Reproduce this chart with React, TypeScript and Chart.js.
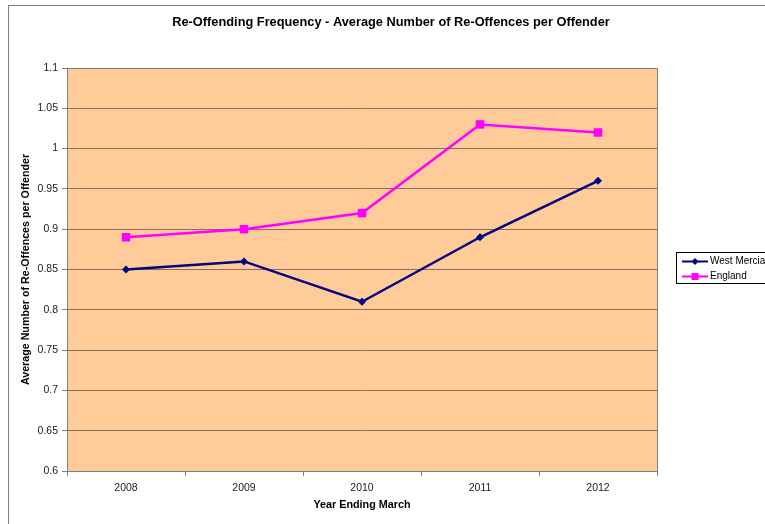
import React, { useEffect, useRef } from "react";
import { Chart, registerables } from "chart.js";

Chart.register(...registerables);

const categories = ["2008", "2009", "2010", "2011", "2012"];
const westMercia = [0.85, 0.86, 0.81, 0.89, 0.96];
const england = [0.89, 0.9, 0.92, 1.03, 1.02];
const seriesNames = ["West Mercia", "England"];
const chartTitle = "Re-Offending Frequency - Average Number of Re-Offences per Offender";
const xTitle = "Year Ending March";
const yTitle = "Average Number of Re-Offences per Offender";

const FONT = "'Liberation Sans', Arial, sans-serif";
const NAVY = "#000080";
const MAGENTA = "#FF00FF";

const W = 790;
const H = 530;

const decorPlugin = {
  id: "decor",
  beforeDraw(chart: any) {
    const { ctx, chartArea } = chart;
    const { left, top, right, bottom } = chartArea;
    ctx.save();
    ctx.fillStyle = "#FFCC99";
    ctx.fillRect(left, top, right - left, bottom - top);
    ctx.restore();
  },
  afterDatasetsDraw(chart: any) {
    const { ctx, chartArea } = chart;
    const { left, top, right, bottom } = chartArea;
    ctx.save();
    ctx.strokeStyle = "#808080";
    ctx.lineWidth = 1;
    ctx.strokeRect(Math.round(left) + 0.5, Math.round(top) + 0.5, Math.round(right - left), Math.round(bottom - top));
    ctx.restore();
  },
  afterDraw(chart: any) {
    const { ctx } = chart;
    ctx.save();
    // title
    ctx.fillStyle = "#000000";
    ctx.font = `bold 12.8px ${FONT}`;
    ctx.textAlign = "center";
    ctx.textBaseline = "middle";
    ctx.fillText(chartTitle, 382, 16);
    // legend
    const bx = 667.5, by = 246.5, bw = 140, bh = 31;
    ctx.fillStyle = "#ffffff";
    ctx.fillRect(bx, by, bw, bh);
    ctx.strokeStyle = "#000000";
    ctx.lineWidth = 1;
    ctx.strokeRect(bx, by, bw, bh);
    const rows = [
      { name: seriesNames[0], color: NAVY, y: 255.5, shape: "diamond" },
      { name: seriesNames[1], color: MAGENTA, y: 270.5, shape: "square" },
    ];
    ctx.font = `10px ${FONT}`;
    ctx.textAlign = "left";
    for (const r of rows) {
      ctx.strokeStyle = r.color;
      ctx.lineWidth = 2;
      ctx.beginPath();
      ctx.moveTo(673, r.y);
      ctx.lineTo(699, r.y);
      ctx.stroke();
      ctx.fillStyle = r.color;
      if (r.shape === "diamond") {
        ctx.beginPath();
        ctx.moveTo(686, r.y - 3.5);
        ctx.lineTo(689.5, r.y);
        ctx.lineTo(686, r.y + 3.5);
        ctx.lineTo(682.5, r.y);
        ctx.closePath();
        ctx.fill();
      } else {
        ctx.fillRect(682.5, r.y - 3.5, 7, 7);
      }
      ctx.fillStyle = "#000000";
      ctx.fillText(r.name, 701, r.y);
    }
    ctx.restore();
  },
};

export default function App() {
  const ref = useRef<HTMLCanvasElement | null>(null);
  useEffect(() => {
    if (!ref.current) return;
    const chart = new Chart(ref.current, {
      type: "line",
      data: {
        labels: categories,
        datasets: [
          {
            label: seriesNames[0],
            data: westMercia,
            borderColor: NAVY,
            backgroundColor: NAVY,
            borderWidth: 2.5,
            pointStyle: "rectRot",
            pointRadius: 4,
            pointBorderWidth: 0,
            tension: 0,
          },
          {
            label: seriesNames[1],
            data: england,
            borderColor: MAGENTA,
            backgroundColor: MAGENTA,
            borderWidth: 2.5,
            pointStyle: "rect",
            pointRadius: 6,
            pointBorderWidth: 0,
            tension: 0,
          },
        ],
      },
      options: {
        responsive: false,
        animation: false,
        layout: { padding: { top: 62, left: 0, right: 142, bottom: 5 } },
        plugins: {
          legend: { display: false },
          title: { display: false },
          tooltip: { enabled: false },
        },
        scales: {
          x: {
            offset: true,
            grid: {
              offset: true,
              drawOnChartArea: false,
              drawTicks: true,
              tickLength: 5,
              color: "#808080",
            },
            border: { display: true, color: "#808080" },
            ticks: {
              color: "#1a1a1a",
              font: { family: FONT, size: 10.5 },
              padding: 6,
            },
            title: {
              display: true,
              text: xTitle,
              color: "#000000",
              font: { family: FONT, size: 10.8, weight: "bold" },
              padding: 19,
            },
            afterFit: (s: any) => {
              s.height = 60;
            },
          },
          y: {
            min: 0.6,
            max: 1.1,
            grid: {
              color: "#86705a",
              tickColor: "#808080",
              tickLength: 5,
              drawTicks: true,
            },
            border: { display: true, color: "#808080" },
            ticks: {
              stepSize: 0.05,
              color: "#1a1a1a",
              font: { family: FONT, size: 10.5 },
              padding: 4,
              callback: (v: any) => String(parseFloat(Number(v).toFixed(2))),
            },
            title: {
              display: true,
              text: yTitle,
              color: "#000000",
              font: { family: FONT, size: 10.7, weight: "bold" },
              padding: 11,
            },
            afterFit: (s: any) => {
              s.width = 58;
            },
          },
        },
      },
      plugins: [decorPlugin],
    });
    return () => chart.destroy();
  }, []);

  return (
    <div
      style={{
        position: "fixed",
        left: 8,
        top: 5,
        width: 757,
        height: 519,
        overflow: "hidden",
        background: "#ffffff",
      }}
    >
      <div style={{ border: "1px solid #808080", width: W, height: H, background: "#ffffff" }}>
        <canvas ref={ref} width={W} height={H} style={{ display: "block", width: W, height: H }} />
      </div>
    </div>
  );
}
